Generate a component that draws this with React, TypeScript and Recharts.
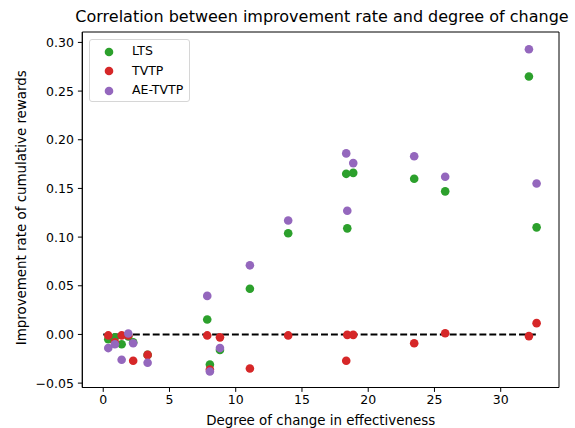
import React from 'react';
import { ScatterChart, Scatter, XAxis, YAxis, ReferenceArea } from 'recharts';

const xValues = [0.38, 0.88, 1.39, 1.89, 2.26, 3.35, 7.85, 8.05, 8.81, 11.07, 13.96, 18.34, 18.42, 18.87, 23.47, 25.81, 32.13, 32.71];
const ltsValues = [-0.005, -0.003, -0.010, -0.002, -0.008, -0.021, 0.0154, -0.031, -0.016, 0.047, 0.104, 0.165, 0.109, 0.166, 0.160, 0.147, 0.265, 0.110];
const tvtpValues = [-0.001, -0.008, -0.001, -0.001, -0.027, -0.021, -0.001, -0.036, -0.003, -0.035, -0.001, -0.027, -0.0004, -0.0004, -0.009, 0.0013, -0.0017, 0.0116];
const aeValues = [-0.014, -0.010, -0.026, 0.001, -0.009, -0.029, 0.0396, -0.038, -0.014, 0.071, 0.117, 0.186, 0.127, 0.176, 0.183, 0.162, 0.293, 0.155];
const baselineX = [0, 32.7];
const baselineY = [0, 0];

const xTicks = [0, 5, 10, 15, 20, 25, 30];
const yTicks = [-0.05, 0, 0.05, 0.1, 0.15, 0.2, 0.25, 0.3];
const xDomain = [-1.58, 34.4];
const yDomain = [-0.0545, 0.3107];

const seriesNames = ['LTS', 'TVTP', 'AE-TVTP'];
const seriesColors = ['#2ca02c', '#d62728', '#9467bd'];

const toPoints = (ys: number[]) => xValues.map((x, i) => ({ x, y: ys[i] }));
const ltsData = toPoints(ltsValues);
const tvtpData = toPoints(tvtpValues);
const aeData = toPoints(aeValues);
const baselineData = baselineX.map((x, i) => ({ x, y: baselineY[i] }));

const FONT = 'DejaVu Sans, sans-serif';
const LABEL_SIZE = 13.4;

const dot = (color: string) => (props: any) => (
  <circle cx={props.cx} cy={props.cy} r={4.3} fill={color} />
);

const fmtY = (v: number) => (v < 0 ? '\u2212' + Math.abs(v).toFixed(2) : v.toFixed(2));

export default function App() {
  return (
    <div style={{ position: 'absolute', left: 0, top: 0, width: 575, height: 428, background: '#fff', fontFamily: FONT }}>
      <div
        style={{
          position: 'absolute',
          left: 72,
          width: 500,
          top: 7,
          textAlign: 'center',
          fontSize: 16,
          color: '#000',
          whiteSpace: 'nowrap',
          fontFamily: FONT,
        }}
      >
        Correlation between improvement rate and degree of change
      </div>
      <ScatterChart width={575} height={428} margin={{ top: 32, right: 16, bottom: 0, left: 0 }}>
        <XAxis
          type="number"
          dataKey="x"
          domain={xDomain}
          ticks={xTicks}
          allowDataOverflow
          height={40.5}
          tickSize={4.4}
          tickMargin={3}
          stroke="#000"
          tick={{ fill: '#000', fontSize: 12.5, fontFamily: FONT }}
          tickLine={{ stroke: '#000', strokeWidth: 1 }}
          axisLine={{ stroke: '#000', strokeWidth: 1 }}
          label={{
            content: (p: any) => {
              const vb = p.viewBox || { x: 82, y: 388, width: 476, height: 40 };
              return (
                <text x={vb.x + vb.width / 2} y={420} textAnchor="middle" dominantBaseline="central" fontSize={LABEL_SIZE} fontFamily={FONT} fill="#000">
                  Degree of change in effectiveness
                </text>
              );
            },
          }}
        />
        <YAxis
          type="number"
          dataKey="y"
          domain={yDomain}
          ticks={yTicks}
          allowDataOverflow
          width={82.3}
          tickSize={4.4}
          tickMargin={4}
          tickFormatter={fmtY}
          stroke="#000"
          tick={{ fill: '#000', fontSize: 12.5, fontFamily: FONT }}
          tickLine={{ stroke: '#000', strokeWidth: 1 }}
          axisLine={{ stroke: '#000', strokeWidth: 1 }}
          label={{
            content: (p: any) => {
              const vb = p.viewBox || { x: 0, y: 32, width: 82, height: 355 };
              const cx = 21;
              const cy = vb.y + vb.height / 2 - 2;
              return (
                <text x={cx} y={cy} transform={`rotate(-90 ${cx} ${cy})`} textAnchor="middle" dominantBaseline="central" fontSize={LABEL_SIZE} fontFamily={FONT} fill="#000">
                  Improvement rate of cumulative rewards
                </text>
              );
            },
          }}
        />
        <ReferenceArea x1={xDomain[0]} x2={xDomain[1]} y1={yDomain[0]} y2={yDomain[1]} fill="none" stroke="#000" strokeWidth={1} ifOverflow="visible" />
        <Scatter
          data={baselineData}
          isAnimationActive={false}
          line={{ stroke: '#000', strokeWidth: 1.9, strokeDasharray: '6.9 3' }}
          shape={() => null}
          legendType="none"
        />
        <Scatter data={ltsData} isAnimationActive={false} shape={dot(seriesColors[0])} />
        <Scatter data={tvtpData} isAnimationActive={false} shape={dot(seriesColors[1])} />
        <Scatter data={aeData} isAnimationActive={false} shape={dot(seriesColors[2])} />
      </ScatterChart>
      <div
        style={{
          position: 'absolute',
          left: 89,
          top: 39,
          width: 101,
          height: 63,
          border: '1px solid #d6d6d6',
          borderRadius: 3,
          background: 'rgba(255,255,255,0.8)',
          boxSizing: 'border-box',
        }}
      >
        {seriesNames.map((name, i) => (
          <div key={name} style={{ position: 'absolute', left: 0, top: 2 + i * 19.5, height: 19, width: 100 }}>
            <svg width={12} height={12} style={{ position: 'absolute', left: 13, top: 3.5 }}>
              <circle cx={6} cy={6} r={4.3} fill={seriesColors[i]} />
            </svg>
            <span style={{ position: 'absolute', left: 42, top: 1, fontSize: 12.5, fontFamily: FONT, color: '#000', whiteSpace: 'nowrap' }}>{name}</span>
          </div>
        ))}
      </div>
    </div>
  );
}
